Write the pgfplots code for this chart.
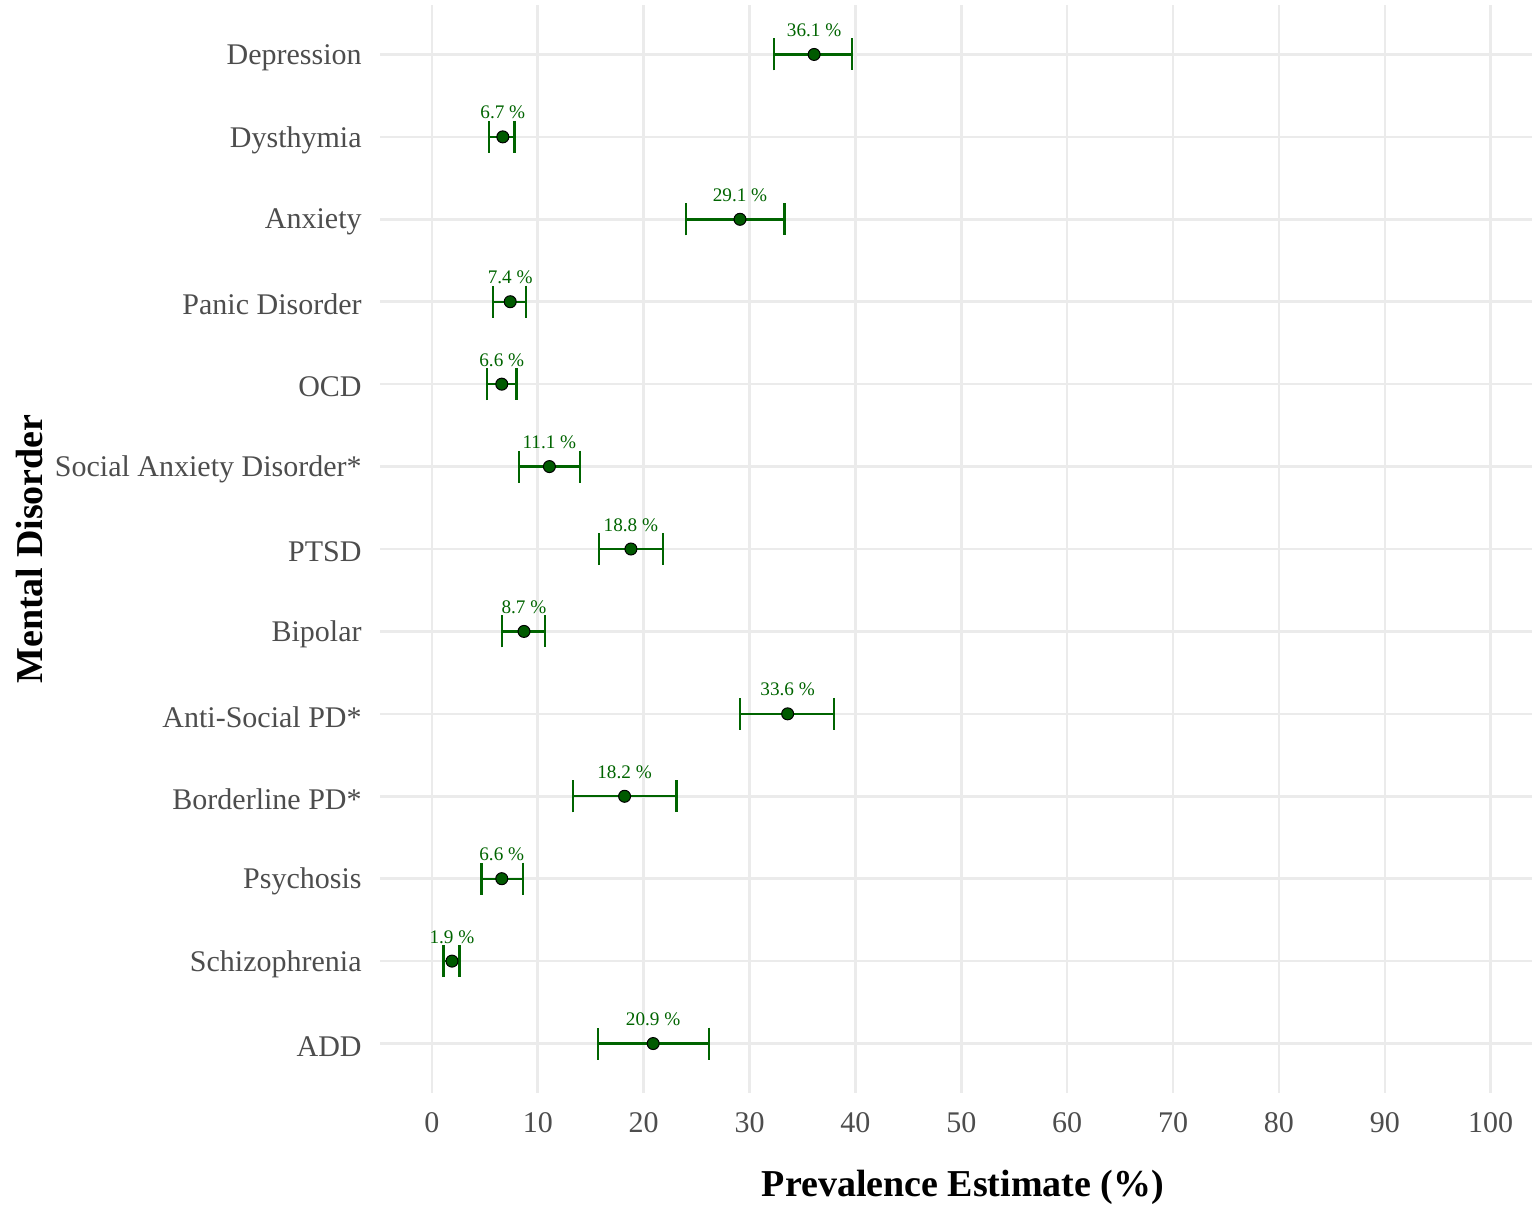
\documentclass[border=0pt]{standalone}
\usepackage{fontspec}
\setmainfont{Liberation Serif}
\usepackage{pgfplots}
\pgfplotsset{compat=1.18}
\usepackage{pgfplotstable}
\definecolor{dg}{HTML}{006400}
\definecolor{ptc}{HTML}{005A00}
\definecolor{gridc}{HTML}{EBEBEB}
\definecolor{tickc}{HTML}{4D4D4D}
\pgfplotstableread[col sep=comma]{
pos,est,lo,hi
13,36.1,32.3,39.7
12,6.7,5.4,7.8
11,29.1,24.0,33.3
10,7.4,5.8,8.9
9,6.6,5.2,8.0
8,11.1,8.2,14.0
7,18.8,15.8,21.8
6,8.7,6.6,10.7
5,33.6,29.1,38.0
4,18.2,13.3,23.1
3,6.6,4.7,8.6
2,1.9,1.1,2.6
1,20.9,15.7,26.2
}\prev
\begin{document}
\begin{tikzpicture}
\begin{axis}[name=ax, scale only axis, width=576pt, height=544pt,
  xmin=-4.9, xmax=103.9, ymin=0.4, ymax=13.6,
  xtick={0,10,...,100}, ytick={1,...,13},
  yticklabels={ADD,Schizophrenia,Psychosis,Borderline PD*,Anti-Social PD*,Bipolar,PTSD,Social Anxiety Disorder*,OCD,Panic Disorder,Anxiety,Dysthymia,Depression},
  axis line style={draw=none}, major tick length=0pt,
  grid=major, major grid style={gridc, line width=1.3pt},
  /pgf/number format/assume math mode=true,
  tick label style={font=\fontsize{15}{15}\selectfont, text=tickc, inner sep=0pt},
  yticklabel style={anchor=east, xshift=-9pt, yshift=-1.5pt},
  xticklabel style={anchor=north, yshift=-9.5pt},
  xlabel={Prevalence Estimate (\%)}, ylabel={Mental Disorder},
  label style={font=\fontsize{19}{19}\selectfont\bfseries, text=black},
  xlabel style={at={([xshift=3.5pt,yshift=-51.5pt]rel axis cs:0.5,0)}, anchor=base},
  ylabel style={at={([xshift=-175pt]rel axis cs:0,0.5)}, anchor=center},
  clip=false,
]
\addplot[draw=none, mark=*, mark size=3pt,
  mark options={fill=ptc, draw=black, line width=0.5pt},
  point meta=x,
  nodes near coords={\pgfmathprintnumber[fixed,precision=1]{\pgfplotspointmeta}\ \%},
  every node near coord/.append style={font=\fontsize{9.6}{10}\selectfont, text=dg, inner sep=0pt, anchor=base, yshift=9pt},
  error bars/.cd, x dir=both, x explicit,
  error mark=|,
  error bar style={dg, line width=1.2pt},
  error mark options={dg, line width=1.2pt, mark size=8pt}]
  table[x=est, y=pos, x error plus expr=\thisrow{hi}-\thisrow{est}, x error minus expr=\thisrow{est}-\thisrow{lo}] {\prev};
\end{axis}
\pgfresetboundingbox
\path[use as bounding box] ([xshift=-190pt,yshift=-57pt]ax.south west) rectangle ([yshift=2.5pt]ax.north east);
\end{tikzpicture}
\end{document}
